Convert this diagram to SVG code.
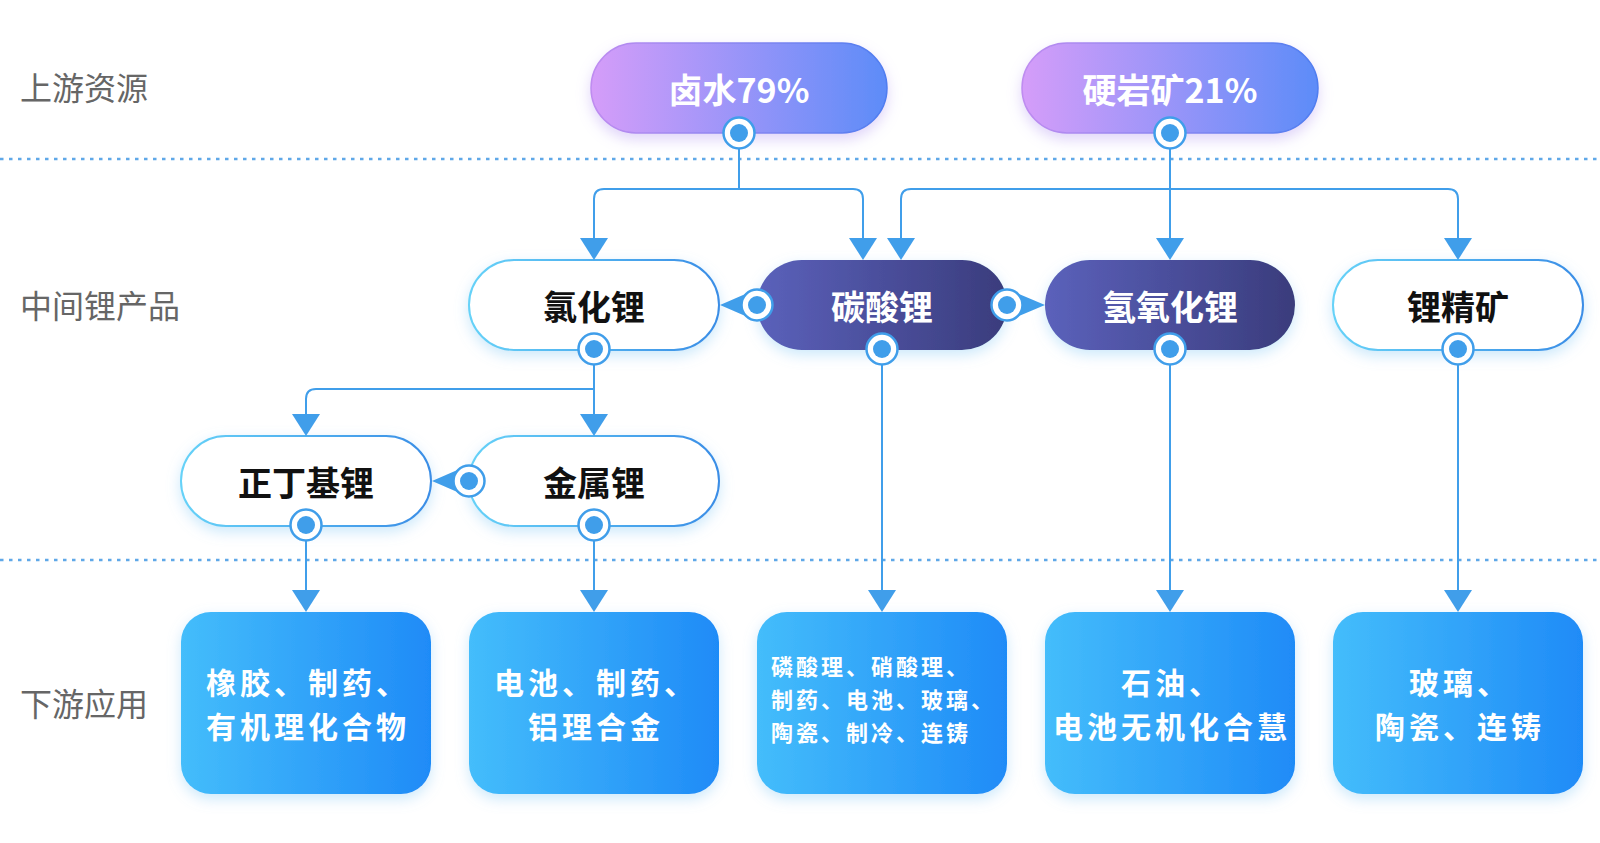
<svg xmlns="http://www.w3.org/2000/svg" width="1600" height="843" viewBox="0 0 1600 843">
<defs>
<linearGradient id="gTop" x1="0" y1="0" x2="1" y2="0"><stop offset="0" stop-color="#d59df9"/><stop offset="1" stop-color="#5d8cf8"/></linearGradient>
<linearGradient id="gTopS" x1="0" y1="0" x2="1" y2="0"><stop offset="0" stop-color="#bf8cf0"/><stop offset="1" stop-color="#4f7ef0"/></linearGradient>
<linearGradient id="gDark" x1="0" y1="0" x2="1" y2="0"><stop offset="0" stop-color="#5b61bb"/><stop offset="1" stop-color="#3a3c7c"/></linearGradient>
<linearGradient id="gWhiteS" x1="0" y1="0" x2="1" y2="0"><stop offset="0" stop-color="#66d2f8"/><stop offset="1" stop-color="#3a8de6"/></linearGradient>
<linearGradient id="gBox" x1="0" y1="0" x2="1" y2="0"><stop offset="0" stop-color="#44bdfb"/><stop offset="1" stop-color="#1f8bf7"/></linearGradient>
<filter id="glowP" x="-20%" y="-30%" width="140%" height="170%"><feDropShadow dx="0" dy="6" stdDeviation="7" flood-color="#b9a2f3" flood-opacity="0.45"/></filter>
<filter id="glowB" x="-20%" y="-30%" width="140%" height="170%"><feDropShadow dx="0" dy="5" stdDeviation="7" flood-color="#7fc6f5" flood-opacity="0.4"/></filter>
</defs>
<style>
.lbl{font-family:"Noto Sans CJK SC","Noto Sans",sans-serif;font-size:32px;fill:#666;dominant-baseline:central}
.pt{font-family:"Noto Sans CJK SC","Noto Sans",sans-serif;font-size:34px;font-weight:700;text-anchor:middle;dominant-baseline:central}
.w{fill:#fff}
.k{fill:#111}
.bt{font-family:"Noto Sans CJK SC","Noto Sans",sans-serif;font-size:30px;letter-spacing:4px;font-weight:700;fill:#fff;text-anchor:middle;dominant-baseline:central}
.bs{font-family:"Noto Sans CJK SC","Noto Sans",sans-serif;font-size:22px;letter-spacing:3px;font-weight:700;fill:#fff;dominant-baseline:central}
.top{fill:url(#gTop);stroke:url(#gTopS);stroke-width:1.5;filter:url(#glowP)}
.dark{fill:url(#gDark);filter:url(#glowB)}
.white{fill:#fff;stroke:url(#gWhiteS);stroke-width:2;filter:url(#glowB)}
.box{fill:url(#gBox);filter:url(#glowB)}
.ln{fill:none;stroke:#409eea;stroke-width:2}
.ar{fill:#409eea}
.ring{fill:#fff;stroke:#409eea;stroke-width:2.5}
.dot{fill:#409eea}
.sep{stroke:#5fa8e8;stroke-width:2.5;stroke-dasharray:3.5 5.5}
</style>
<rect width="1600" height="843" fill="#fff"/>
<line class="sep" x1="0" y1="159" x2="1600" y2="159"/>
<line class="sep" x1="0" y1="560" x2="1600" y2="560"/>
<g id="labels">
<text class="lbl" x="20" y="86">上游资源</text>
<text class="lbl" x="20" y="304">中间锂产品</text>
<text class="lbl" x="20" y="702">下游应用</text>
</g>
<g id="n-brine"><rect class="top" x="591" y="43" width="296" height="90" rx="45"/><text class="pt w" x="739" y="88">卤水79%</text></g>
<g id="n-rock"><rect class="top" x="1022" y="43" width="296" height="90" rx="45"/><text class="pt w" x="1170" y="88">硬岩矿21%</text></g>
<g id="n-licl"><rect class="white" x="469" y="260" width="250" height="90" rx="45"/><text class="pt k" x="594" y="305">氯化锂</text></g>
<g id="n-li2co3"><rect class="dark" x="757" y="260" width="250" height="90" rx="45"/><text class="pt w" x="882" y="305">碳酸锂</text></g>
<g id="n-lioh"><rect class="dark" x="1045" y="260" width="250" height="90" rx="45"/><text class="pt w" x="1170" y="305">氢氧化锂</text></g>
<g id="n-conc"><rect class="white" x="1333" y="260" width="250" height="90" rx="45"/><text class="pt k" x="1458" y="305">锂精矿</text></g>
<g id="n-buli"><rect class="white" x="181" y="436" width="250" height="90" rx="45"/><text class="pt k" x="306" y="481">正丁基锂</text></g>
<g id="n-li"><rect class="white" x="469" y="436" width="250" height="90" rx="45"/><text class="pt k" x="594" y="481">金属锂</text></g>
<g id="b1"><rect class="box" x="181" y="612" width="250" height="182" rx="30"/><text class="bt" x="308" y="681">橡胶、制药、</text><text class="bt" x="308" y="725">有机理化合物</text></g>
<g id="b2"><rect class="box" x="469" y="612" width="250" height="182" rx="30"/><text class="bt" x="596" y="681">电池、制药、</text><text class="bt" x="596" y="725">铝理合金</text></g>
<g id="b3"><rect class="box" x="757" y="612" width="250" height="182" rx="30"/><text class="bs" x="771" y="665">磷酸理、硝酸理、</text><text class="bs" x="771" y="698">制药、电池、玻璃、</text><text class="bs" x="771" y="731">陶瓷、制冷、连铸</text></g>
<g id="b4"><rect class="box" x="1045" y="612" width="250" height="182" rx="30"/><text class="bt" x="1172" y="681">石油、</text><text class="bt" x="1172" y="725">电池无机化合慧</text></g>
<g id="b5"><rect class="box" x="1333" y="612" width="250" height="182" rx="30"/><text class="bt" x="1460" y="681">玻璃、</text><text class="bt" x="1460" y="725">陶瓷、连铸</text></g>
<g id="connectors">
<path class="ln" d="M739,133 V189 H604 Q594,189 594,199 V240"/>
<path class="ln" d="M739,189 H853 Q863,189 863,199 V240"/>
<path class="ln" d="M1170,133 V240"/>
<path class="ln" d="M1170,189 H911 Q901,189 901,199 V240"/>
<path class="ln" d="M1170,189 H1448 Q1458,189 1458,199 V240"/>
<path class="ln" d="M594,350 V416"/>
<path class="ln" d="M594,389 H316 Q306,389 306,399 V416"/>
<path class="ln" d="M882,350 V592"/>
<path class="ln" d="M1170,350 V592"/>
<path class="ln" d="M1458,350 V592"/>
<path class="ln" d="M306,526 V592"/>
<path class="ln" d="M594,526 V592"/>
<polygon class="ar" points="580,238 608,238 594,260"/>
<polygon class="ar" points="849,238 877,238 863,260"/>
<polygon class="ar" points="887,238 915,238 901,260"/>
<polygon class="ar" points="1156,238 1184,238 1170,260"/>
<polygon class="ar" points="1444,238 1472,238 1458,260"/>
<polygon class="ar" points="580,414 608,414 594,436"/>
<polygon class="ar" points="292,414 320,414 306,436"/>
<polygon class="ar" points="292,590 320,590 306,612"/>
<polygon class="ar" points="580,590 608,590 594,612"/>
<polygon class="ar" points="868,590 896,590 882,612"/>
<polygon class="ar" points="1156,590 1184,590 1170,612"/>
<polygon class="ar" points="1444,590 1472,590 1458,612"/>
<polygon class="ar" points="720,305 750,292 750,318"/>
<polygon class="ar" points="1045,305 1014,292 1014,318"/>
<polygon class="ar" points="432,481 462,468 462,494"/>
<circle class="ring" cx="739" cy="133" r="15.5"/><circle class="dot" cx="739" cy="133" r="9"/>
<circle class="ring" cx="1170" cy="133" r="15.5"/><circle class="dot" cx="1170" cy="133" r="9"/>
<circle class="ring" cx="594" cy="349" r="15.5"/><circle class="dot" cx="594" cy="349" r="9"/>
<circle class="ring" cx="882" cy="349" r="15.5"/><circle class="dot" cx="882" cy="349" r="9"/>
<circle class="ring" cx="1170" cy="349" r="15.5"/><circle class="dot" cx="1170" cy="349" r="9"/>
<circle class="ring" cx="1458" cy="349" r="15.5"/><circle class="dot" cx="1458" cy="349" r="9"/>
<circle class="ring" cx="306" cy="525" r="15.5"/><circle class="dot" cx="306" cy="525" r="9"/>
<circle class="ring" cx="594" cy="525" r="15.5"/><circle class="dot" cx="594" cy="525" r="9"/>
<circle class="ring" cx="757" cy="305" r="15.5"/><circle class="dot" cx="757" cy="305" r="9"/>
<circle class="ring" cx="1007" cy="305" r="15.5"/><circle class="dot" cx="1007" cy="305" r="9"/>
<circle class="ring" cx="469" cy="481" r="15.5"/><circle class="dot" cx="469" cy="481" r="9"/>
</g>
</svg>
